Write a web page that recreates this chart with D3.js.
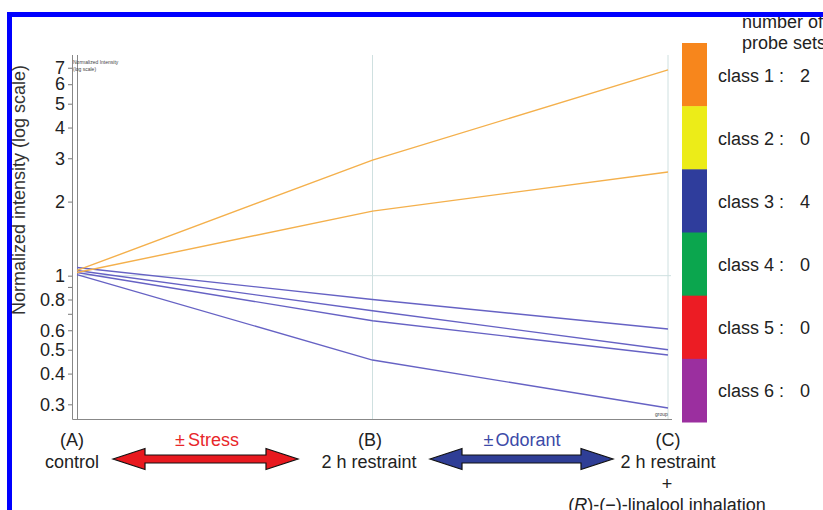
<!DOCTYPE html>
<html>
<head>
<meta charset="utf-8">
<script src="https://cdn.jsdelivr.net/npm/d3@7"></script>
<style>
  body { margin: 0; background: #fff; }
  svg { font-family: "Liberation Sans", Arial, sans-serif; display: block; }
</style>
</head>
<body>
<div id="chart"></div>
<script>
  // groups on the x axis
  let groups = ["A", "B", "C"];
  let groupTitles = ["(A)", "(B)", "(C)"];
  let groupNames = ["control", "2 h restraint", "2 h restraint"];

  // class 1 probe sets (orange), class 3 probe sets (blue)
  let class1Values = [
    [1.05, 2.95, 6.86],
    [1.03, 1.83, 2.64]
  ];
  let class3Values = [
    [1.08, 0.80, 0.607],
    [1.05, 0.72, 0.50],
    [1.03, 0.656, 0.476],
    [1.01, 0.454, 0.29]
  ];

  // y ticks
  let tickValues = [0.3, 0.4, 0.5, 0.6, 0.7, 0.8, 0.9, 1, 2, 3, 4, 5, 6, 7];
  let tickLabels = ["0.3", "0.4", "0.5", "0.6", "", "0.8", "", "1", "2", "3", "4", "5", "6", "7"];

  // legend
  let classNames = ["class 1 :", "class 2 :", "class 3 :", "class 4 :", "class 5 :", "class 6 :"];
  let classCounts = [2, 0, 4, 0, 0, 0];
  let classColors = ["#f7861c", "#ecec18", "#2f3d9c", "#0ba64e", "#ec1c24", "#9b2f9f"];

  let width = 823, height = 510, fs = 18;

  let svg = d3.select("#chart").append("svg")
              .attr("width", width).attr("height", height);

  // scales
  let x = d3.scalePoint().domain(groups).range([77, 668]);
  let y = d3.scaleLog().domain([0.2615, 7.74]).range([419, 57]);

  // blue frame (left side)
  svg.append("rect").attr("x", 7).attr("y", 12).attr("width", 5).attr("height", height)
     .attr("fill", "#0000ff");

  // grid lines
  svg.selectAll(".vgrid").data(groups.slice(1)).enter().append("line")
     .attr("x1", d => x(d)).attr("x2", d => x(d))
     .attr("y1", 55).attr("y2", 419)
     .attr("stroke", "#cfe0e0").attr("stroke-width", 1);

  svg.append("line")
     .attr("x1", x("A")).attr("x2", 671)
     .attr("y1", y(1)).attr("y2", y(1))
     .attr("stroke", "#cfe0e0").attr("stroke-width", 1);

  // axes
  let yAxis = d3.axisLeft(y).tickValues(tickValues)
                .tickFormat((d, i) => tickLabels[i]).tickSize(4).tickPadding(3);

  let gy = svg.append("g").attr("transform", "translate(72,0)").call(yAxis);
  gy.select(".domain").remove();
  gy.selectAll(".tick line").attr("stroke", "#777");
  gy.selectAll(".tick text").attr("font-size", fs).attr("fill", "#222")
    .attr("font-family", "Liberation Sans, Arial, sans-serif");

  svg.append("path")
     .attr("d", "M72.5,55 V419.5 H672 M77.5,55 V419")
     .attr("fill", "none").attr("stroke", "#888").attr("stroke-width", 1);

  svg.append("text")
     .attr("transform", "translate(25,190) rotate(-90)")
     .attr("text-anchor", "middle").attr("font-size", fs).attr("fill", "#333")
     .text("Normalized intensity (log scale)");

  // tiny labels inside the plot
  svg.append("text").attr("x", 73).attr("y", 64).attr("font-size", 5).attr("fill", "#444")
     .text("Normalized Intensity");
  svg.append("text").attr("x", 73).attr("y", 71).attr("font-size", 5).attr("fill", "#444")
     .text("(log scale)");
  svg.append("text").attr("x", 655).attr("y", 416).attr("font-size", 5).attr("fill", "#444")
     .text("group");

  // profile lines
  let line = d3.line().x((d, i) => x(groups[i])).y(d => y(d));

  svg.selectAll(".c3").data(class3Values).enter().append("path")
     .attr("d", line).attr("fill", "none")
     .attr("stroke", "#6662c4").attr("stroke-width", 1.4);

  svg.selectAll(".c1").data(class1Values).enter().append("path")
     .attr("d", line).attr("fill", "none")
     .attr("stroke", "#f4b04c").attr("stroke-width", 1.4);

  // legend color bar
  let band = d3.scaleBand().domain(classNames).range([43, 422]);

  svg.selectAll(".bar").data(classNames).enter().append("rect")
     .attr("x", 682).attr("width", 25)
     .attr("y", d => band(d)).attr("height", band.bandwidth() + 0.5)
     .attr("fill", (d, i) => classColors[i]);

  svg.selectAll(".cname").data(classNames).enter().append("text")
     .attr("x", 718).attr("y", d => band(d) + band.bandwidth() / 2 + 7)
     .attr("font-size", fs).attr("fill", "#222").text(d => d);

  svg.selectAll(".ccount").data(classCounts).enter().append("text")
     .attr("x", 805).attr("y", (d, i) => band(classNames[i]) + band.bandwidth() / 2 + 7)
     .attr("text-anchor", "middle").attr("font-size", fs).attr("fill", "#222").text(d => d);

  svg.append("text").attr("x", 742).attr("y", 28).attr("font-size", fs).attr("fill", "#222")
     .text("number of");
  svg.append("text").attr("x", 742).attr("y", 49).attr("font-size", fs).attr("fill", "#222")
     .text("probe sets");

  // frame top drawn over the text
  svg.append("rect").attr("x", 7).attr("y", 12).attr("width", width).attr("height", 5)
     .attr("fill", "#0000ff");

  // group labels under the axis
  let labelX = [72, 370, 668];
  svg.selectAll(".gtitle").data(groupTitles).enter().append("text")
     .attr("x", (d, i) => labelX[i]).attr("y", 446)
     .attr("text-anchor", "middle").attr("font-size", fs).attr("fill", "#222").text(d => d);

  let nameX = [72, 369, 668];
  svg.selectAll(".gname").data(groupNames).enter().append("text")
     .attr("x", (d, i) => nameX[i]).attr("y", 468)
     .attr("text-anchor", "middle").attr("font-size", fs).attr("fill", "#222").text(d => d);

  svg.append("text").attr("x", 667).attr("y", 490)
     .attr("text-anchor", "middle").attr("font-size", fs).attr("fill", "#222").text("+");

  let lin = svg.append("text").attr("x", 667).attr("y", 511)
     .attr("text-anchor", "middle").attr("font-size", fs).attr("fill", "#222");
  lin.append("tspan").text("(");
  lin.append("tspan").attr("font-style", "italic").text("R");
  lin.append("tspan").text(")-(\u2212)-linalool inhalation");

  // double arrows
  function arrow(x1, x2, cy, fill) {
    let hl = 32, hh = 10.5, sh = 4;
    let pts = [[x1, cy], [x1 + hl, cy - hh], [x1 + hl, cy - sh], [x2 - hl, cy - sh], [x2 - hl, cy - hh],
               [x2, cy], [x2 - hl, cy + hh], [x2 - hl, cy + sh], [x1 + hl, cy + sh], [x1 + hl, cy + hh]];
    svg.append("path").attr("d", d3.line()(pts) + "Z")
       .attr("fill", fill).attr("stroke", "#111").attr("stroke-width", 1.2)
       .attr("stroke-linejoin", "miter");
  }
  arrow(113, 298, 459, "#e8191f");
  arrow(430, 613, 459, "#2f3e96");

  let stress = svg.append("text").attr("x", 207).attr("y", 446).attr("text-anchor", "middle")
     .attr("font-size", fs).attr("fill", "#e8262a");
  stress.append("tspan").text("\u00b1");
  stress.append("tspan").attr("dx", 3).text("Stress");

  let odor = svg.append("text").attr("x", 522).attr("y", 446).attr("text-anchor", "middle")
     .attr("font-size", fs).attr("fill", "#3c4aa8");
  odor.append("tspan").text("\u00b1");
  odor.append("tspan").attr("dx", 2).text("Odorant");
</script>
</body>
</html>
